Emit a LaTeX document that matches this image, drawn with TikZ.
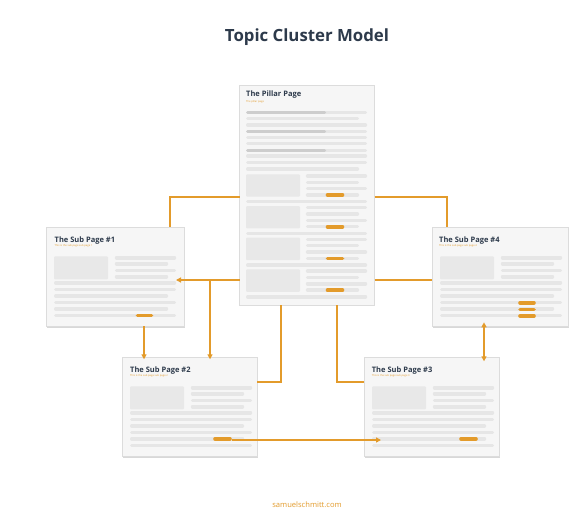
\documentclass[tikz,border=0pt]{standalone}
\usepackage{fontspec}
\setmainfont{Open Sans}
\usetikzlibrary{arrows.meta,shadows}
\definecolor{titleC}{HTML}{2D3A4B}
\definecolor{orangeC}{HTML}{E39B2B}
\definecolor{pageC}{HTML}{F6F6F6}
\definecolor{borderC}{HTML}{DCDCDC}
\definecolor{lineC}{HTML}{E6E6E6}
\definecolor{darkC}{HTML}{CDCDCD}
\definecolor{imgC}{HTML}{E8E8E8}
\tikzset{
  page/.style={draw=borderC, line width=0.6pt, fill=pageC, anchor=north west, inner sep=0pt, outer sep=0pt,
    drop shadow={shadow xshift=0.6pt, shadow yshift=-1.2pt, opacity=0.25, fill=black!60}},
  ttl/.style={anchor=west, inner sep=0pt, text=titleC, font=\bfseries\fontsize{7.5}{8}\selectfont},
  subttl/.style={anchor=west, inner sep=0pt, text=orangeC, font=\fontsize{2.6}{3}\selectfont},
  tline/.style={line width=3.4pt, line cap=round, draw=lineC},
  dline/.style={line width=3.4pt, line cap=round, draw=darkC},
  pill/.style={line width=3.6pt, line cap=round, draw=orangeC},
  imgbox/.style={fill=imgC, rounded corners=1pt},
  conn/.style={draw=orangeC, line width=1.8pt},
  tip/.tip={Triangle[length=5pt,width=5pt]}
}
\newcommand\subcontent{%
  \fill[imgbox] (8,29) rectangle (62,52);
  \foreach \yy/\ee in {30.5/128.5,36.5/120.5,43/128.5,49.5/120.5} \draw[tline] (70.5,\yy) -- (\ee,\yy);
  \foreach \yy/\ee in {55.5/128.5,62/128.5,68.7/120.5,75/128.5,81.5/120.5,88/128.5} \draw[tline] (9.7,\yy) -- (\ee,\yy);
}
\begin{document}
\begin{tikzpicture}[x=1pt,y=-1pt]
\fill[white] (0,0) rectangle (585,520);
\useasboundingbox (0,0) rectangle (585,520);

\node[text=titleC, font=\bfseries\fontsize{16.8}{20}\selectfont] (title) at (307,37) {Topic Cluster Model};
\node[text=orangeC, font=\fontsize{7.6}{9}\selectfont] (foot) at (307,505) {samuelschmitt.com};

% connector helper coordinates
\coordinate (k1) at (170,197);
\coordinate (k4) at (447,197);
\coordinate (k2) at (281,382);
\coordinate (k3) at (337,382);
\coordinate (a1) at (176,280);
\coordinate (a2) at (210,280);
\coordinate (p1) at (144,330);
\coordinate (p2) at (232,440);
\coordinate (p3) at (381,440);
\coordinate (k5) at (484,340);

% Pillar page
\begin{scope}[shift={(239.5,85)}]
\node[page, minimum width=135pt, minimum height=220pt] (pillar) at (0,0) {};
\node[ttl] (pt) at (6.5,10) {The Pillar Page};
\node[subttl] (ps) at (6.5,17) {The pillar page};
\foreach \yy/\ee in {27.3/126, 33.3/118, 40/126, 46.7/126, 52.3/126, 58.3/126, 65.3/126, 71/126, 77.3/126, 84/118}
  \draw[tline] (8.2,\yy) -- (\ee,\yy);
\foreach \yy in {27.3,46.7,65.3}
  \draw[dline] (8.2,\yy) -- (85,\yy);
\foreach \k in {0,1,2,3} {
  \pgfmathsetmacro\b{89.3+31.7*\k}
  \fill[imgbox] (6.5,\b) rectangle (60.5,{\b+22.4});
  \draw[tline] (68,{\b+1.7}) -- (126,{\b+1.7});
  \draw[tline] (68,{\b+8}) -- (118,{\b+8});
  \draw[tline] (68,{\b+14.4}) -- (126,{\b+14.4});
  \draw[tline] (68,{\b+20.7}) -- (118,{\b+20.7});
  \draw[pill] (88,{\b+20.7}) -- (103,{\b+20.7});
  \draw[tline] (8.2,{\b+27.4}) -- (126,{\b+27.4});
}
\end{scope}

% Sub page 1
\begin{scope}[shift={(46,227.3)}]
\node[page, minimum width=138pt, minimum height=99pt] (s1) at (0,0) {};
\node[ttl] (t1) at (8.5,13) {The Sub Page \#1};
\node[subttl] (u1) at (8.5,18.5) {This is the sub page sub page 1};
\subcontent
\draw[pill] (91.5,88) -- (105.5,88);
\end{scope}

% Sub page 2
\begin{scope}[shift={(122,357.3)}]
\node[page, minimum width=135pt, minimum height=99pt] (s2) at (0,0) {};
\node[ttl] (t2) at (8,13) {The Sub Page \#2};
\node[subttl] (u2) at (8,18.5) {This is the sub page sub page 2};
\subcontent
\draw[pill] (93,81.5) -- (108,81.5);
\end{scope}

% Sub page 3
\begin{scope}[shift={(364,357.3)}]
\node[page, minimum width=135.5pt, minimum height=99pt] (s3) at (0,0) {};
\node[ttl] (t3) at (7.7,13) {The Sub Page \#3};
\node[subttl] (u3) at (7.7,18.5) {This is the sub page sub page 3};
\subcontent
\draw[pill] (97,81.5) -- (112,81.5);
\end{scope}

% Sub page 4
\begin{scope}[shift={(432,227.3)}]
\node[page, minimum width=136pt, minimum height=99pt] (s4) at (0,0) {};
\node[ttl] (t4) at (7,13) {The Sub Page \#4};
\node[subttl] (u4) at (7,18.5) {This is the sub page sub page 4};
\subcontent
\foreach \yy in {75.4,82,88.7} \draw[pill] (88,\yy) -- (102,\yy);
\end{scope}

% connectors
\draw[conn] (pillar.west |- k1) -| (s1.north -| k1);
\draw[conn] (pillar.east |- k4) -| (s4.north -| k4);
\draw[conn] (pillar.south -| k2) |- (s2.east |- k2);
\draw[conn] (pillar.south -| k3) |- (s3.west |- k3);
\draw[conn,-tip] (pillar.west |- a1) -- (a1);
\draw[conn] (pillar.east |- a1) -- (s4.west |- a1);
\draw[conn,-tip] (a2) -- ([yshift=-2pt]s2.north -| a2);
\draw[conn,-tip] (s1.south -| p1) -- ([yshift=-2pt]s2.north -| p1);
\draw[conn,-tip] (p2) -- (p3);
\draw[conn,tip-tip] ([yshift=4pt]s4.south -| k5) -- ([yshift=-4pt]s3.north -| k5);
\end{tikzpicture}
\end{document}
